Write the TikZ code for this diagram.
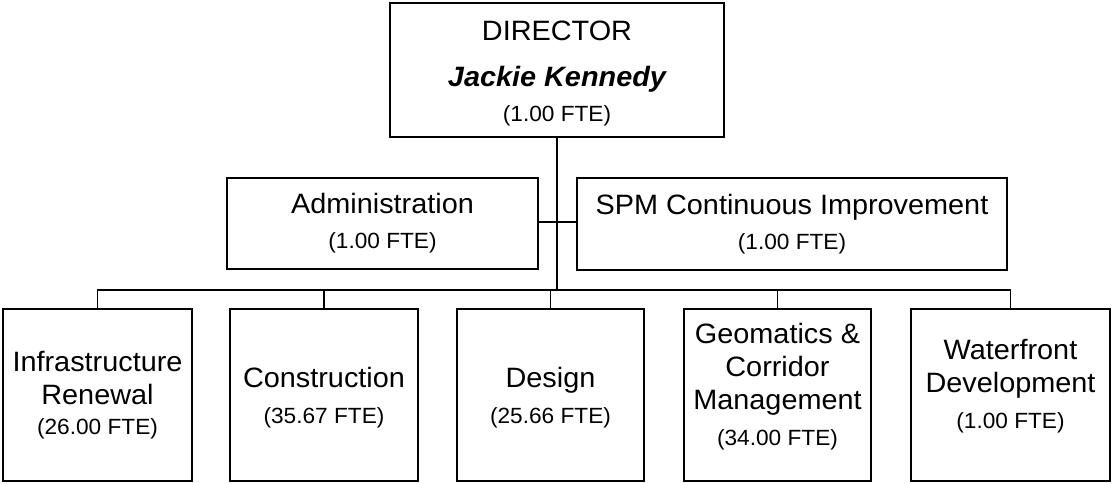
\documentclass[tikz,border=0pt]{standalone}
\usepackage{fontspec}
\newfontfamily\chartfont[FakeStretch=1.03]{Liberation Sans}
\newcommand\fteline[1]{{\fontsize{22}{22}\selectfont #1}}
\tikzset{
  box/.style={draw, line width=2pt, inner sep=0pt, align=center,
    font=\chartfont\fontsize{28}{33}\selectfont},
  unitbox/.style={box, minimum width=#1, minimum height=172pt},
  link/.style={line width=1.4pt},
  trunk/.style={line width=2.6pt}
}
\begin{document}
\begin{tikzpicture}[x=1pt,y=-1pt]
\useasboundingbox (0,0) rectangle (1112,483);
\node[box, minimum width=334pt, minimum height=134pt] (dir) at (557,70)
  {\rule{0pt}{27pt}DIRECTOR\\[13pt]{\bfseries\itshape Jackie Kennedy}\\[2pt]\fteline{(1.00 FTE)}};
\node[box, minimum width=311pt, minimum height=91pt] (adm) at (382.5,223.5)
  {Administration\\[2pt]\fteline{(1.00 FTE)}};
\node[box, minimum width=430pt, minimum height=92pt] (spm) at (792,224)
  {SPM Continuous Improvement\\[2pt]\fteline{(1.00 FTE)}};
\node[unitbox=189pt] (b1) at (97.5,395)
  {Infrastructure\\Renewal\\[-3pt]\fteline{(26.00 FTE)}};
\node[unitbox=188pt, text depth=-1.5pt] (b2) at (324,395)
  {Construction\\[3pt]\fteline{(35.67 FTE)}};
\node[unitbox=187pt, text depth=-1.5pt] (b3) at (550.5,395)
  {Design\\[3pt]\fteline{(25.66 FTE)}};
\node[unitbox=187pt, text depth=22pt] (b4) at (777.5,395)
  {Geomatics \&\\Corridor\\Management\\[3pt]\fteline{(34.00 FTE)}};
\node[unitbox=199pt, text depth=22pt] (b5) at (1010.5,395)
  {Waterfront\\Development\\[3pt]\fteline{(1.00 FTE)}};
\coordinate (bus) at (557,290);
\coordinate (side) at (557,222);
\draw[link] (side -| adm.east) -- (side -| spm.west);
\draw[link] (b1.north) -- (b1.north |- bus) -- (b5.north |- bus) -- (b5.north);
\foreach \b in {b2,b3,b4} \draw[link] (\b.north) -- (\b.north |- bus);
\draw[trunk] (dir.south) -- (bus);
\end{tikzpicture}
\end{document}
